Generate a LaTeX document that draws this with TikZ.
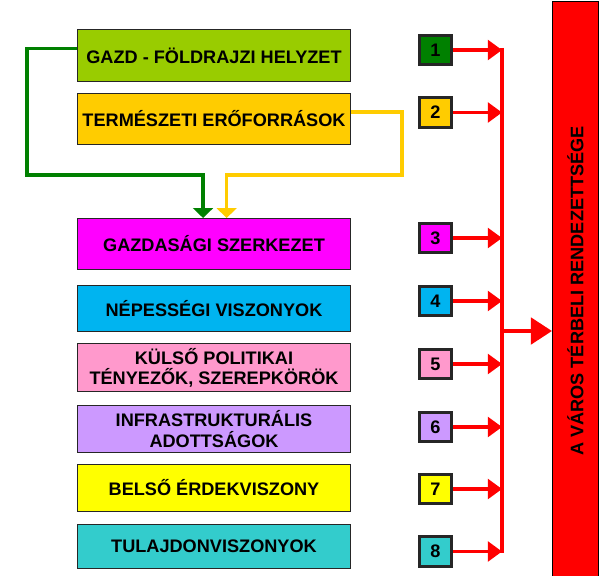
\documentclass[tikz,border=0pt]{standalone}
\usepackage{fontspec}
\setmainfont{Liberation Sans}
\usetikzlibrary{arrows.meta}
\definecolor{fuzold}{HTML}{99CC00}
\definecolor{arany}{HTML}{FFCC00}
\definecolor{bibor}{HTML}{FF00FF}
\definecolor{egkek}{HTML}{00B4F0}
\definecolor{rozsa}{HTML}{FF99CC}
\definecolor{levendula}{HTML}{CC99FF}
\definecolor{citrom}{HTML}{FFFF00}
\definecolor{turkiz}{HTML}{33CCCC}
\definecolor{sotetzold}{HTML}{008000}
\begin{document}
\begin{tikzpicture}[
  x=0.025cm, y=-0.025cm,
  tenyezo/.style={draw=black!85, line width=1pt, minimum width=6.81cm, align=center, inner sep=1pt,
    font=\fontsize{12.9}{14.3}\selectfont\bfseries},
  szam/.style={draw=black!85, line width=2pt, minimum width=0.8cm, minimum height=0.73cm,
    font=\fontsize{12.9}{14.3}\selectfont\bfseries},
  piros/.style={draw=red, line width=2.2pt},
  kis/.style={-{Triangle[length=10pt, width=14pt]}},
  nagy/.style={-{Triangle[length=15pt, width=19pt]}},
  bevezeto/.style={line width=2.2pt, -{Triangle[length=7pt, width=14pt]}},
]
  \useasboundingbox (0,0) rectangle (601,575);

  % tényezők
  \foreach \n/\y/\h/\szin/\szoveg in {
    1/55.5/1.29cm/fuzold/{GAZD - FÖLDRAJZI HELYZET},
    2/119/1.265cm/arany/{TERMÉSZETI ERŐFORRÁSOK},
    3/244/1.265cm/bibor/{GAZDASÁGI SZERKEZET},
    4/308.5/1.14cm/egkek/{NÉPESSÉGI VISZONYOK},
    5/367.5/1.19cm/rozsa/{KÜLSŐ POLITIKAI\\TÉNYEZŐK, SZEREPKÖRÖK},
    6/429/1.165cm/levendula/{INFRASTRUKTURÁLIS\\ADOTTSÁGOK},
    7/488/1.165cm/citrom/{BELSŐ ÉRDEKVISZONY},
    8/546.5/1.09cm/turkiz/{TULAJDONVISZONYOK}} {
    \node[tenyezo, fill=\szin, minimum height=\h] (b\n) at (214,\y) {\szoveg};
  }

  % számozott négyzetek
  \foreach \n/\y/\szin in {
    1/50/sotetzold, 2/112.5/arany, 3/238/bibor, 4/301/egkek,
    5/364/rozsa, 6/427/levendula, 7/489/citrom, 8/551.5/turkiz} {
    \node[szam, fill=\szin] (n\n) at (435.5,\y) {\n};
  }

  % cél
  \node[draw=black, line width=0.8pt, fill=red, rotate=90, minimum width=14.45cm, minimum height=1.15cm,
    font=\fontsize{12.9}{14.3}\selectfont\bfseries] (cel) at (575.5,291) {A VÁROS TÉRBELI RENDEZETTSÉGE};

  % bevezető vonalak
  \draw[bevezeto, sotetzold] ([yshift=5.3pt]b1.west) -| (27,175) -| ([xshift=-7.8pt]b3.north);
  \draw[bevezeto, arany] ([yshift=5pt]b2.east) -| (402,175) -| ([xshift=9pt]b3.north);

  % gyűjtősín
  \coordinate (sin) at (502,0);
  \coordinate (csomo) at (502,331);
  \draw[piros] ([yshift=1.5pt]n1.east -| sin) -- ([yshift=-1pt]n8.east -| sin);
  \foreach \n in {1,...,8} {
    \draw[piros, kis] (n\n.east) -- (n\n.east -| sin);
  }
  \draw[piros, nagy] (csomo) -- (csomo -| cel.north);
\end{tikzpicture}
\end{document}
